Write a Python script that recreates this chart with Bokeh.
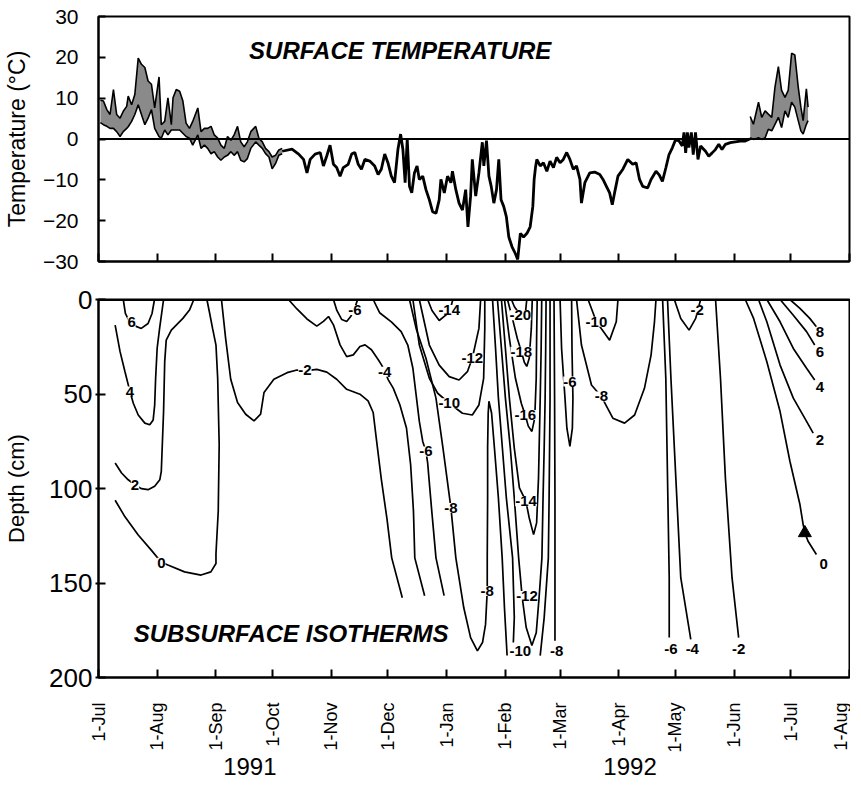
import math
from bokeh.plotting import figure
from bokeh.models import (Range1d, FixedTicker, Span, Label, LabelSet, ColumnDataSource,
                          LinearAxis)
from bokeh.layouts import column
from bokeh.embed import file_html
from bokeh.resources import INLINE
from bokeh.core.properties import value

FONT = "Liberation Sans"

# ---- axis ticks (days since 1 Jul 1991) ----
month_days = [0, 31, 62, 92, 123, 153, 184, 215, 244, 275, 305, 336, 366, 397]
month_labels = ["1-Jul", "1-Aug", "1-Sep", "1-Oct", "1-Nov", "1-Dec", "1-Jan",
                "1-Feb", "1-Mar", "1-Apr", "1-May", "1-Jun", "1-Jul", "1-Aug"]
temp_ticks = [-30, -20, -10, 0, 10, 20, 30]
depth_ticks = [0, 50, 100, 150, 200]
year_labels = ["1991", "1992"]
year_days = [80, 281]

# ---- surface temperature: summer 1991 daily range ----
s1_day = [1.0, 2.6, 4.4, 6.1, 7.9, 9.6, 11.4, 13.1, 14.9, 15.7, 17.5, 19.2, 21.0, 22.7, 24.5,
          26.2, 28.0, 29.7, 32.0, 33.2, 35.0, 36.7, 38.5, 39.4, 41.1, 42.9, 44.6, 46.3, 48.1,
          49.8, 52.5, 54.2, 56.0, 57.7, 59.5, 61.2, 63.0, 64.7, 66.5, 68.2, 70.0, 71.7, 73.5,
          75.2, 77.0, 78.7, 80.5, 83.1, 84.8, 86.6, 88.3, 90.1, 91.8, 93.6, 95.3, 97.1]
s1_max = [9.5, 9.3, 7.2, 6.0, 12.1, 6.0, 5.1, 6.8, 8.0, 10.5, 8.4, 10.9, 19.8, 18.3, 17.5,
          14.2, 13.4, 7.6, 15.2, 3.5, 4.3, 10.1, 3.5, 10.1, 12.1, 11.7, 9.3, 3.9, 2.6,
          4.3, 7.6, 1.8, 2.6, 2.6, 3.1, 1.0, 0.2, -1.5, -2.3, 0.6, -0.3, 1.0, 3.1,
          -0.7, -1.9, -0.7, 1.8, 3.1, 0.2, -0.7, -2.3, -3.1, -4.4, -4.0, -2.7, -2.3]
s1_min = [4.0, 3.5, 3.1, 2.6, 2.6, 1.8, 0.6, 1.8, 2.6, 3.0, 4.3, 6.0, 8.4, 6.0, 3.5,
          5.1, 7.2, 2.6, 0.6, 0.2, 2.2, 1.0, 2.2, 2.2, 2.2, 2.2, 1.4, 0.6, 0.2,
          -1.5, 1.0, -2.3, -1.5, -2.3, -3.6, -3.1, -4.4, -5.2, -4.4, -4.0, -3.1, -4.0, -3.1,
          -5.2, -5.6, -4.8, -2.3, -0.7, -1.5, -2.3, -3.6, -4.4, -7.3, -6.0, -4.0, -3.6]

# ---- surface temperature: winter trace ----
w_day = [97.1, 102.3, 105.8, 108.4, 110.2, 111.9, 114.5, 117.2, 118.9, 120.7, 122.4, 124.2,
         125.9, 127.7, 129.4, 132.0, 133.8, 135.5, 137.3, 139.0, 140.8, 143.4, 146.0, 147.8,
         149.5, 151.3, 153.0, 154.8, 156.5, 158.3, 159.7, 160.9, 162.1, 163.2, 164.4, 165.6,
         167.0, 168.4, 169.6, 171.4, 173.1, 174.9, 176.6, 178.4, 180.1, 181.0, 182.8, 184.5,
         186.3, 187.1, 188.9, 190.6, 192.4, 194.1, 195.3, 196.7, 197.6, 199.4, 201.1, 202.9,
         203.7, 205.1, 206.4, 207.6, 209.0, 210.4, 211.6, 212.8, 214.2, 215.6, 216.9, 218.6,
         220.4, 221.6, 223.0, 224.7, 226.5, 228.2, 229.6, 230.3, 231.0, 231.7, 233.5, 235.2,
         237.0, 238.7, 240.5, 242.2, 244.0, 245.7, 247.5, 249.2, 251.0, 252.7, 254.5, 255.3,
         257.1, 259.7, 262.3, 265.0, 266.7, 268.5, 270.2, 271.6, 272.8, 274.6, 277.2, 279.8,
         282.4, 284.2, 286.0, 287.7, 290.3, 292.1, 294.7, 296.4, 298.1, 299.9, 301.6, 303.4,
         305.1, 306.9, 308.6, 309.5, 310.4, 311.3, 312.1, 313.4, 314.4, 315.6, 316.9, 318.3,
         320.9, 322.6, 324.4, 326.1, 327.9, 329.6, 331.4, 334.0, 336.6, 339.2, 341.9, 343.6, 344.5]
w_temp = [-3.0, -2.5, -3.7, -5.0, -8.3, -5.0, -3.7, -3.3, -6.6, -4.1, -1.5, -6.2,
          -7.0, -9.1, -7.0, -6.2, -3.7, -3.3, -6.2, -7.4, -5.0, -5.4, -6.6, -8.7,
          -7.4, -3.7, -5.8, -9.1, -10.7, -2.5, 1.2, -2.5, -10.7, 0.0, -11.6, -13.2,
          -8.3, -6.6, -9.9, -9.1, -12.4, -14.9, -17.8, -18.2, -14.9, -9.9, -13.2, -9.1,
          -10.7, -7.9, -12.4, -15.7, -17.4, -12.4, -21.5, -14.0, -5.0, -14.0, -8.3, -0.8,
          -6.6, -0.4, -9.1, -11.6, -15.7, -12.4, -5.0, -14.9, -16.5, -19.0, -24.0, -26.4,
          -28.1, -29.5, -23.1, -24.0, -23.1, -21.5, -16.5, -9.9, -7.0, -5.0, -6.6, -5.8,
          -7.9, -5.4, -7.0, -4.5, -5.8, -5.0, -3.3, -5.0, -7.4, -6.6, -9.9, -15.7,
          -10.7, -8.3, -8.1, -8.7, -9.9, -11.6, -13.2, -16.1, -13.2, -9.1, -7.4, -5.0,
          -6.2, -5.8, -9.9, -11.6, -12.0, -9.9, -7.9, -8.8, -10.4, -7.1, -3.8, -2.1,
          -0.1, -0.5, -1.7, 1.6, -3.4, 1.6, -2.1, 1.6, -3.8, 1.6, -5.0, -1.7,
          -3.0, -4.2, -3.4, -2.6, -1.3, -2.6, -1.3, -0.9, -0.7, -0.5, -0.5, -0.1, 0.0]

# ---- surface temperature: summer 1992 daily range ----
s2_day = [344.5, 346.2, 348.9, 350.6, 352.4, 354.1, 355.9, 357.6, 359.4, 361.1, 362.9, 364.6,
          366.4, 368.1, 369.9, 371.3, 372.5, 374.2, 375.1]
s2_max = [5.5, 3.6, 9.0, 5.3, 6.9, 6.1, 5.3, 12.7, 17.7, 11.9, 10.2, 11.9, 21.0, 20.6, 12.7,
          7.8, 4.5, 12.3, 7.8]
s2_min = [0.3, -0.1, 0.3, -0.1, 0.3, 2.4, 2.0, 3.6, 5.3, 2.8, 6.9, 5.3, 9.0, 7.8, 4.5,
          2.0, 1.2, 3.6, 4.5]

# ---- subsurface isotherms: (day, depth cm) ----
iso_p6_a = [(13.1, 0), (14.2, 7.4), (16.3, 11.6), (19.9, 14.2), (22.6, 15.3), (26.2, 12.7), (28.3, 7.4), (29.6, 0)]
iso_p4_a = [(8.8, 13.6), (11.4, 27.6), (14.0, 38.2), (16.6, 48.6), (18.4, 54.9), (21.0, 61.1), (24.5, 65.4),
            (27.1, 66.3), (28.9, 63.7), (29.7, 55.8), (30.2, 41.7), (31.0, 25.9), (32.3, 15.3), (34.4, 0)]
iso_p2_a = [(8.8, 86.5), (12.2, 91.8), (15.7, 95.4), (19.2, 98.0), (22.7, 100.1), (26.2, 100.6), (29.7, 98.8),
            (32.4, 95.4), (33.2, 90.9), (34.4, 59.3), (35.0, 32.9), (35.8, 21.5), (38.5, 16.2), (44.6, 10.0),
            (48.1, 5.6), (50.4, 0)]
iso_0_a = [(8.8, 106.2), (14.0, 115.0), (21.0, 124.6), (27.9, 132.6), (33.2, 139.0), (36.7, 140.5), (45.5, 144.1),
           (54.2, 145.8), (59.4, 144.1), (62.1, 139.7), (62.1, 134.5), (63.3, 112.0), (63.8, 76.9), (63.0, 41.7),
           (62.1, 24.1), (60.3, 15.3), (58.6, 6.5), (57.3, 0)]
iso_m2_a = [(65.0, 0), (67.2, 20.6), (69.9, 42.2), (73.5, 54.5), (77.8, 60.7), (82.2, 64.2), (85.7, 60.7),
            (87.5, 49.2), (92.7, 42.2), (99.7, 38.7), (104.9, 37.3), (109.1, 37.8), (115.4, 37.0), (120.7, 38.4),
            (125.9, 42.2), (131.2, 47.5), (138.2, 50.1), (142.5, 53.6), (145.2, 59.8), (146.9, 73.9),
            (149.5, 95.0), (152.5, 116.1), (155.0, 136.7), (160.6, 157.8)]
iso_m4_a = [(100.4, 0), (104.9, 5.0), (110.2, 10.3), (115.4, 14.1), (118.9, 11.6), (121.6, 9.0), (124.2, 13.4),
            (127.7, 24.0), (131.2, 30.2), (134.7, 29.3), (138.2, 24.9), (140.9, 24.0), (144.3, 26.6),
            (147.9, 31.9), (149.6, 34.6), (151.4, 38.1), (153.2, 42.5), (155.8, 46.9), (159.3, 55.7),
            (162.8, 68.0), (165.0, 87.4), (166.5, 112.0), (167.2, 136.7), (172.4, 156.7)]
iso_m6_a = [(124.2, 0), (126.0, 5.8), (128.6, 10.6), (131.2, 11.6), (133.3, 9.0), (135.4, 4.7), (137.0, 0)]
iso_m6_b = [(145.2, 0), (148.6, 7.0), (154.8, 11.8), (160.0, 17.0), (163.5, 24.1), (166.2, 36.4), (167.9, 50.5),
            (169.6, 64.5), (171.4, 75.1), (173.1, 80.4), (174.0, 86.5), (176.0, 110.0), (178.4, 136.7),
            (182.7, 156.7)]
iso_m8_a = [(164.4, 0), (167.9, 15.3), (173.1, 31.1), (178.4, 52.2), (182.1, 78.6), (186.3, 110.3),
            (188.9, 136.7), (193.1, 163.1), (196.7, 178.9), (200.3, 185.9), (203.0, 181.5), (204.6, 171.9),
            (205.5, 154.1), (205.5, 136.7), (205.7, 105.0), (205.7, 78.6), (206.0, 60.2), (206.4, 53.8),
            (207.8, 60.2), (209.3, 78.6), (211.4, 105.0), (213.4, 136.7), (214.6, 163.1), (216.0, 188.4)]
iso_m10_a = [(166.2, 0), (169.6, 24.1), (174.9, 41.7), (179.3, 49.6), (185.4, 54.9), (192.4, 60.2),
             (197.6, 61.1), (201.1, 55.8), (203.6, 41.7), (204.2, 15.3), (204.2, 0)]
iso_m12_a = [(169.6, 0), (174.9, 24.1), (180.1, 34.7), (185.4, 40.8), (190.6, 42.6), (195.0, 38.2),
             (197.6, 31.1), (201.1, 15.3), (202.0, 0)]
iso_m14_a = [(174.0, 0), (176.3, 5.8), (180.1, 11.1), (183.6, 8.3), (186.3, 4.0), (187.3, 0)]
iso_m10_b = [(208.3, 0), (209.9, 25.9), (211.4, 52.2), (213.5, 78.6), (215.6, 105.0), (218.9, 136.7),
             (219.8, 168.3), (219.3, 181.5)]
iso_m12_b = [(210.9, 0), (213.0, 25.9), (215.1, 52.2), (217.7, 78.6), (219.8, 105.0), (222.1, 136.7),
             (224.0, 157.8), (226.1, 173.6), (229.1, 183.1), (231.4, 176.3), (232.9, 157.8), (234.4, 136.7),
             (235.0, 105.0), (235.6, 78.6), (236.1, 52.2), (236.4, 25.9), (236.6, 0)]
iso_m14_b = [(213.0, 0), (215.1, 25.9), (217.2, 52.2), (219.8, 78.6), (222.5, 99.7), (225.9, 106.6),
             (227.7, 115.6), (230.0, 124.4), (231.6, 118.2), (232.6, 94.5), (233.5, 52.2), (234.0, 25.9),
             (234.3, 0)]
iso_m16_a = [(214.6, 0), (217.2, 20.6), (220.4, 41.7), (223.5, 54.9), (225.6, 61.2), (227.2, 67.0),
             (229.1, 69.8), (230.6, 62.8), (231.4, 41.7), (231.6, 20.6), (231.9, 0)]
iso_m18_a = [(216.2, 0), (218.8, 10.0), (221.4, 20.6), (223.5, 27.4), (225.1, 33.2), (226.4, 35.4),
             (227.7, 31.1), (228.8, 15.3), (229.3, 0)]
iso_m20_a = [(218.3, 0), (219.8, 3.7), (223.0, 8.3), (224.6, 10.6), (225.6, 7.9), (226.4, 0)]
iso_m10_c = [(238.7, 0), (238.7, 52.2), (238.2, 105.0), (237.8, 136.7), (235.6, 168.3), (233.5, 188.4)]
iso_m8_c = [(240.8, 0), (241.1, 52.2), (241.3, 105.0), (241.3, 136.7), (241.3, 180.5)]
iso_m6_c = [(244.0, 0), (244.8, 25.9), (246.6, 52.2), (247.6, 68.1), (249.2, 77.7), (250.5, 68.1),
            (250.8, 52.2), (250.3, 25.9), (250.1, 0)]
iso_m8_d = [(252.7, 0), (255.3, 24.1), (260.6, 45.2), (265.8, 51.3), (271.9, 62.8), (278.1, 65.4),
            (283.4, 61.1), (288.6, 47.0), (292.1, 29.4), (293.9, 11.8), (294.7, 0)]
iso_m10_d = [(258.8, 0), (263.2, 11.8), (270.2, 21.5), (273.7, 11.8), (274.6, 0)]
iso_m6_d = [(298.2, 0), (299.9, 41.7), (300.8, 94.5), (301.7, 147.2), (301.7, 178.9)]
iso_m4_d = [(300.8, 0), (302.6, 41.7), (305.2, 94.5), (307.8, 147.2), (313.1, 179.8)]
iso_m2_d = [(304.4, 0), (307.8, 10.0), (312.2, 16.2), (315.7, 10.0), (318.3, 0)]
iso_m2_e = [(326.2, 0), (328.8, 41.7), (331.4, 94.5), (334.9, 147.2), (338.4, 178.9)]
iso_0_b = [(341.9, 0), (346.3, 10.0), (353.3, 32.9), (360.3, 59.3), (365.5, 85.6), (370.8, 108.5),
           (372.5, 119.1), (373.4, 123.5), (375.1, 127.9), (379.5, 134.9)]
iso_p2_b = [(348.9, 0), (353.3, 11.8), (360.3, 34.7), (367.3, 52.2), (374.3, 64.5), (377.8, 70.7)]
iso_p4_b = [(353.3, 0), (360.3, 11.8), (367.3, 25.9), (374.3, 36.4), (378.6, 42.6)]
iso_p6_b = [(360.3, 0), (367.3, 8.3), (374.3, 17.0), (378.6, 24.1)]
iso_p8_b = [(365.5, 0), (370.8, 4.7), (376.0, 10.0), (379.5, 14.4)]

isotherms = [iso_p6_a, iso_p4_a, iso_p2_a, iso_0_a, iso_m2_a, iso_m4_a, iso_m6_a, iso_m6_b, iso_m8_a,
             iso_m10_a, iso_m12_a, iso_m14_a, iso_m10_b, iso_m12_b, iso_m14_b, iso_m16_a, iso_m18_a,
             iso_m20_a, iso_m10_c, iso_m8_c, iso_m6_c, iso_m8_d, iso_m10_d, iso_m6_d, iso_m4_d,
             iso_m2_d, iso_m2_e, iso_0_b, iso_p2_b, iso_p4_b, iso_p6_b, iso_p8_b]

# contour labels
lab_day = [17.5, 16.6, 19.3, 33.2, 109.1, 135.5, 151.3, 185.4, 197.6, 185.4, 173.1, 186.3, 223.0, 223.5,
           225.6, 226.0, 205.5, 226.5, 223.0, 242.2, 263.2, 249.2, 265.8, 316.5, 302.6, 313.9, 338.4,
           381.3, 381.3, 381.3, 381.3, 383.4]
lab_depth = [11.8, 48.7, 98.0, 139.3, 37.3, 5.6, 38.2, 5.6, 31.1, 54.9, 80.4, 110.3, 8.3, 27.6,
             61.1, 106.8, 154.2, 156.9, 185.9, 185.9, 11.8, 43.4, 51.3, 5.6, 185.1, 185.1, 185.1,
             17.0, 28.0, 46.1, 74.2, 140.2]
lab_text = ["6", "4", "2", "0", "-2", "-6", "-4", "-14", "-12", "-10", "-6", "-8", "-20", "-18",
            "-16", "-14", "-8", "-12", "-10", "-8", "-10", "-6", "-8", "-2", "-6", "-4", "-2",
            "8", "6", "4", "2", "0"]

marker_day = [373.4]
marker_depth = [123.5]

# ================= top panel =================
p1 = figure(frame_width=751, frame_height=245, min_border_left=92, min_border_right=2,
            min_border_top=16, min_border_bottom=20, x_range=Range1d(0, 397),
            y_range=Range1d(-30, 30), output_backend="svg", toolbar_location=None)
p1.varea(x=s1_day, y1=s1_min, y2=s1_max, fill_color="#8a8a8a")
p1.line(s1_day, s1_max, line_color="black", line_width=1.6)
p1.line(s1_day, s1_min, line_color="black", line_width=1.6)
p1.varea(x=s2_day, y1=s2_min, y2=s2_max, fill_color="#8a8a8a")
p1.line(s2_day, s2_max, line_color="black", line_width=1.6)
p1.line(s2_day, s2_min, line_color="black", line_width=1.6)
p1.line(w_day, w_temp, line_color="black", line_width=2.8)
p1.add_layout(Span(location=0, dimension="width", line_color="black", line_width=1.8))
p1.add_layout(Label(x=159.5, y=21.6, text="SURFACE TEMPERATURE", text_align="center",
                    text_baseline="middle", text_font=FONT, text_font_size="24px",
                    text_font_style="bold italic", text_color="black"))

# ================= bottom panel =================
p2 = figure(frame_width=751, frame_height=378, min_border_left=92, min_border_right=2,
            min_border_top=18, min_border_bottom=106, x_range=Range1d(0, 397),
            y_range=Range1d(200, 0), output_backend="svg", toolbar_location=None)
p2.multi_line(xs=[[pt[0] for pt in iso] for iso in isotherms],
              ys=[[pt[1] for pt in iso] for iso in isotherms],
              line_color="black", line_width=1.7)
p2.scatter(marker_day, marker_depth, marker="triangle", size=13, color="black")
lab_src = ColumnDataSource(dict(x=lab_day, y=lab_depth, t=lab_text))
p2.add_layout(LabelSet(x="x", y="y", text="t", source=lab_src, text_align="center",
                       text_baseline="middle", text_font=value(FONT), text_font_size=value("15px"),
                       text_font_style=value("bold"), text_color=value("black"),
                       background_fill_color="white"))
p2.add_layout(Span(location=0, dimension="width", line_color="black", line_width=3))
p2.add_layout(Label(x=101.8, y=176.8, text="SUBSURFACE ISOTHERMS", text_align="center",
                    text_baseline="middle", text_font=FONT, text_font_size="24px",
                    text_font_style="bold italic", text_color="black"))

# year axis below the month axis
year_axis = LinearAxis(ticker=FixedTicker(ticks=year_days),
                       major_label_overrides={d: y for d, y in zip(year_days, year_labels)})
year_axis.axis_line_color = None
year_axis.major_tick_line_color = None
year_axis.minor_tick_line_color = None
year_axis.major_tick_in = 0
year_axis.major_tick_out = 0
year_axis.major_label_standoff = 2
year_axis.major_label_text_font = FONT
year_axis.major_label_text_font_size = "24px"
year_axis.major_label_text_color = "black"
p2.add_layout(year_axis, "below")

# ================= styling =================
for p in (p1, p2):
    p.grid.visible = False
    p.outline_line_color = "black"
    p.outline_line_width = 2
    p.background_fill_color = "white"
    p.border_fill_color = "white"
    for ax in (p.xaxis[0], p.yaxis[0]):
        ax.axis_line_color = "black"
        ax.axis_line_width = 2
        ax.major_tick_line_color = "black"
        ax.major_tick_line_width = 2
        ax.minor_tick_line_color = None
        ax.major_label_text_font = FONT
        ax.major_label_text_color = "black"
        ax.axis_label_text_font = FONT
        ax.axis_label_text_font_style = "normal"
        ax.axis_label_text_color = "black"
    p.xaxis[0].ticker = FixedTicker(ticks=month_days)
    p.xaxis[0].major_tick_in = 8
    p.xaxis[0].major_tick_out = 0

p1.xaxis.major_label_text_font_size = "1px"
p1.xaxis.major_label_text_alpha = 0
p1.xaxis.major_label_standoff = 0
p1.yaxis.ticker = FixedTicker(ticks=temp_ticks)
p1.yaxis.major_label_text_font_size = "21px"
p1.yaxis.major_label_standoff = 20
p1.yaxis.major_tick_in = 7
p1.yaxis.major_tick_out = 0
p1.yaxis.axis_label = "Temperature (°C)"
p1.yaxis.axis_label_text_font_size = "23px"
p1.yaxis.axis_label_standoff = 10

month_axis = p2.xaxis[0]
month_axis.major_label_overrides = {d: l for d, l in zip(month_days, month_labels)}
month_axis.major_label_orientation = math.pi / 2
month_axis.major_label_text_font_size = "18px"
month_axis.major_label_standoff = 25
p2.yaxis.ticker = FixedTicker(ticks=depth_ticks)
p2.yaxis.major_label_text_font_size = "26px"
p2.yaxis.major_label_standoff = 3
p2.yaxis.major_tick_in = 7
p2.yaxis.major_tick_out = 3
p2.yaxis.axis_label = "Depth (cm)"
p2.yaxis.axis_label_text_font_size = "22px"
p2.yaxis.axis_label_standoff = 17

layout = column(p1, p2)
open("out.html", "w").write(file_html(layout, INLINE))
